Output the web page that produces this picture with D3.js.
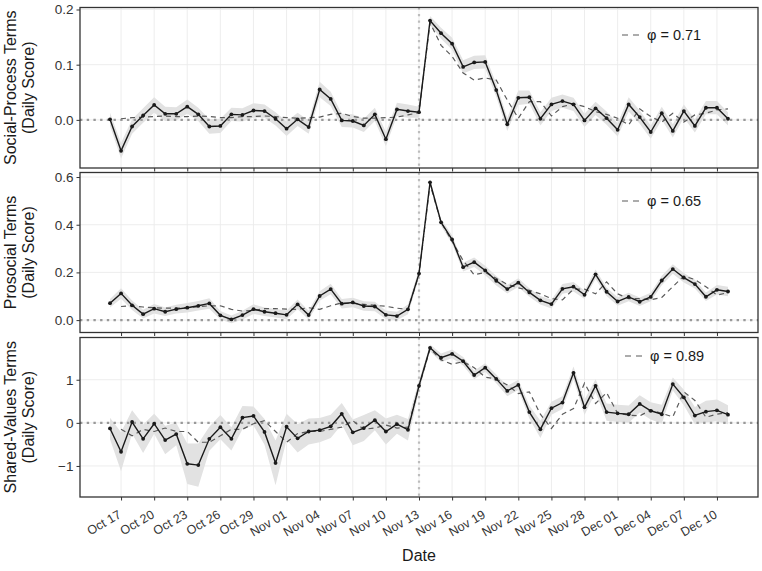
<!DOCTYPE html>
<html>
<head>
<meta charset="utf-8">
<script src="https://cdn.jsdelivr.net/npm/d3@7"></script>
<style>
    body { margin: 0; background: #fff; }
    svg { font-family: "Liberation Sans", Arial, sans-serif; }
</style>
</head>
<body>
<svg id="chart-svg" width="762" height="571"></svg>
<script>
/** Days covered (one point per day) **/
var firstDay = "2015-10-16", lastDay = "2015-12-11";
var eventDay = "2015-11-13";
var tickDays = ["2015-10-17","2015-10-20","2015-10-23","2015-10-26","2015-10-29","2015-11-01","2015-11-04",
    "2015-11-07","2015-11-10","2015-11-13","2015-11-16","2015-11-19","2015-11-22","2015-11-25","2015-11-28",
    "2015-12-01","2015-12-04","2015-12-07","2015-12-10"];

/** Social-process terms **/
var socialObserved = [0.001,-0.056,-0.012,0.008,0.027,0.011,0.011,0.024,0.010,-0.012,-0.011,0.010,0.009,0.017,0.016,
    0.002,-0.016,0.001,-0.013,0.055,0.038,-0.001,-0.002,-0.010,0.010,-0.035,0.019,0.016,0.014,
    0.180,0.157,0.138,0.096,0.104,0.105,0.054,-0.008,0.040,0.041,0.002,0.028,0.034,0.028,-0.001,
    0.021,0.003,-0.018,0.028,0.005,-0.022,0.012,-0.020,0.016,-0.011,0.022,0.022,0.002];
var socialModel = [null,0.002,0.004,0.005,0.006,0.007,0.006,0.006,0.007,0.006,0.004,0.004,0.006,0.006,0.007,
    0.006,0.004,0.003,0.004,0.005,0.010,0.012,0.006,0.003,0.003,0.004,0.005,0.009,0.013,
    0.176,0.135,0.115,0.085,0.072,0.076,0.072,0.036,0.003,0.033,0.033,0.007,0.024,0.029,0.024,
    0.015,0.010,0.003,-0.009,0.020,0.006,-0.004,0.012,-0.004,0.009,0.012,0.018,0.020];
var socialSE = [0.012,0.014,0.013,0.013,0.014,0.013,0.012,0.013,0.012,0.013,0.013,0.012,0.012,0.013,0.012,
    0.012,0.013,0.012,0.012,0.014,0.013,0.012,0.012,0.012,0.012,0.013,0.012,0.012,0.010,
    0.008,0.010,0.011,0.012,0.012,0.012,0.012,0.012,0.013,0.012,0.012,0.012,0.012,0.012,0.012,
    0.012,0.012,0.012,0.013,0.012,0.012,0.012,0.012,0.012,0.012,0.012,0.012,0.012];

/** Prosocial terms **/
var prosocialObserved = [0.071,0.112,0.062,0.025,0.048,0.035,0.046,0.052,0.060,0.070,0.020,0.003,0.021,0.046,0.035,
    0.029,0.022,0.066,0.021,0.101,0.130,0.069,0.074,0.059,0.057,0.022,0.017,0.045,0.195,
    0.578,0.410,0.338,0.222,0.243,0.208,0.165,0.130,0.157,0.116,0.083,0.067,0.131,0.140,0.106,
    0.192,0.119,0.078,0.097,0.077,0.097,0.166,0.214,0.178,0.151,0.098,0.127,0.120];
var prosocialModel = [null,0.057,0.060,0.055,0.052,0.050,0.050,0.052,0.056,0.060,0.060,0.045,0.038,0.040,0.048,
    0.048,0.046,0.045,0.052,0.045,0.060,0.072,0.070,0.066,0.062,0.058,0.050,0.045,0.190,
    0.570,0.410,0.330,0.250,0.190,0.200,0.175,0.150,0.135,0.125,0.110,0.090,0.085,0.130,0.130,
    0.110,0.160,0.110,0.090,0.090,0.085,0.095,0.140,0.185,0.170,0.140,0.105,0.115];
var prosocialSE = [0.018,0.022,0.020,0.018,0.020,0.018,0.018,0.020,0.020,0.022,0.018,0.016,0.018,0.020,0.018,
    0.018,0.018,0.020,0.018,0.020,0.022,0.020,0.020,0.020,0.020,0.018,0.018,0.020,0.018,
    0.012,0.015,0.018,0.018,0.020,0.020,0.020,0.018,0.018,0.018,0.018,0.018,0.020,0.020,0.018,
    0.020,0.018,0.018,0.018,0.018,0.018,0.020,0.020,0.020,0.018,0.018,0.020,0.020];

/** Shared-values terms **/
var valuesObserved = [-0.13,-0.67,0.02,-0.37,-0.02,-0.40,-0.26,-0.95,-0.98,-0.37,-0.10,-0.37,0.12,0.16,-0.21,
    -0.93,-0.09,-0.36,-0.20,-0.17,-0.08,0.21,-0.22,-0.12,0.06,-0.20,-0.03,-0.16,0.86,
    1.74,1.51,1.60,1.43,1.11,1.28,1.02,0.74,0.88,0.25,-0.15,0.34,0.47,1.16,0.36,
    0.86,0.25,0.22,0.20,0.44,0.28,0.20,0.90,0.59,0.17,0.26,0.29,0.19];
var valuesModel = [null,-0.15,-0.30,-0.15,-0.20,-0.12,-0.20,-0.20,-0.45,-0.45,-0.30,-0.15,-0.15,-0.02,0.05,
    -0.20,-0.45,-0.25,-0.20,-0.20,-0.15,-0.10,0.05,-0.15,-0.12,-0.05,-0.12,-0.10,0.84,
    1.72,1.46,1.36,1.42,1.28,1.06,1.02,0.88,0.68,0.72,0.20,-0.13,0.20,0.33,0.92,
    0.45,0.70,0.22,0.18,0.16,0.30,0.22,0.14,0.72,0.52,0.13,0.20,0.24];
var valuesSE = [0.25,0.45,0.27,0.33,0.23,0.33,0.26,0.47,0.50,0.28,0.28,0.27,0.27,0.22,0.30,
    0.52,0.30,0.33,0.30,0.28,0.27,0.25,0.30,0.30,0.23,0.30,0.22,0.25,0.12,
    0.08,0.10,0.10,0.10,0.10,0.10,0.10,0.12,0.12,0.15,0.20,0.15,0.15,0.15,0.18,
    0.15,0.20,0.20,0.20,0.20,0.20,0.22,0.15,0.18,0.20,0.25,0.25,0.22];

/** Panel titles, fit values and y ticks **/
var panelTitles = [["Social-Process Terms", "(Daily Score)"], ["Prosocial Terms", "(Daily Score)"], ["Shared-Values Terms", "(Daily Score)"]];
var phiValues = [0.71, 0.65, 0.89];
var socialTicks = [0, 0.1, 0.2];
var prosocialTicks = [0, 0.2, 0.4, 0.6];
var valuesTicks = [-1, 0, 1];

/** Layout **/
var chart_svg = d3.select("#chart-svg");
var left = 80, right = 758;
var parseDay = d3.utcParse("%Y-%m-%d");
var days = d3.utcDay.range(parseDay(firstDay), d3.utcDay.offset(parseDay(lastDay), 1));
var pad = 2.72 * 864e5;

var xScale = d3.scaleUtc()
    .domain([new Date(days[0].getTime() - pad), new Date(days[days.length - 1].getTime() + pad)])
    .range([left, right]);

var panels = [
    {top: 7.5, bottom: 168, domain: [-0.0872, 0.2036], ticks: socialTicks, fmt: d3.format(".1f"),
        obs: socialObserved, model: socialModel, se: socialSE, legendY: 27.5, legendX: 622},
    {top: 172.5, bottom: 332.5, domain: [-0.052, 0.619], ticks: prosocialTicks, fmt: d3.format(".1f"),
        obs: prosocialObserved, model: prosocialModel, se: prosocialSE, legendY: 28.5, legendX: 622},
    {top: 337.5, bottom: 497, domain: [-1.72, 1.98], ticks: valuesTicks, fmt: d3.format("d"),
        obs: valuesObserved, model: valuesModel, se: valuesSE, legendY: 18.5, legendX: 625}
];

panels.forEach(function (p, k) { drawPanel(p, k); });

function drawPanel(p, k) {
    var yScale = d3.scaleLinear().domain(p.domain).range([p.bottom, p.top]);
    var g = chart_svg.append("g");

    g.append("clipPath").attr("id", "clip" + k)
        .append("rect").attr("x", left).attr("y", p.top).attr("width", right - left).attr("height", p.bottom - p.top);

    /** Grid lines **/
    g.selectAll(".vgrid").data(tickDays).enter().append("line")
        .attr("x1", function (d) { return xScale(parseDay(d)); })
        .attr("x2", function (d) { return xScale(parseDay(d)); })
        .attr("y1", p.top).attr("y2", p.bottom)
        .attr("stroke", "#ebebeb").attr("stroke-width", 0.9);
    g.selectAll(".hgrid").data(p.ticks).enter().append("line")
        .attr("x1", left).attr("x2", right)
        .attr("y1", function (d) { return yScale(d); })
        .attr("y2", function (d) { return yScale(d); })
        .attr("stroke", "#ebebeb").attr("stroke-width", 0.9);

    var rows = days.map(function (d, i) {
        return {day: d, obs: p.obs[i], model: p.model[i], se: p.se[i]};
    });
    var plot = g.append("g").attr("clip-path", "url(#clip" + k + ")");

    /** Ribbon **/
    var band = d3.area()
        .x(function (d) { return xScale(d.day); })
        .y0(function (d) { return yScale(d.obs - d.se); })
        .y1(function (d) { return yScale(d.obs + d.se); });
    plot.append("path").datum(rows)
        .attr("fill", "#e2e2e2")
        .attr("d", band);

    /** Reference lines **/
    plot.append("line")
        .attr("x1", xScale(parseDay(eventDay))).attr("x2", xScale(parseDay(eventDay)))
        .attr("y1", p.top).attr("y2", p.bottom)
        .attr("stroke", "#bdbdbd").attr("stroke-width", 2.2)
        .attr("stroke-dasharray", "2.2,4.3");
    plot.append("line")
        .attr("x1", left).attr("x2", right)
        .attr("y1", yScale(0)).attr("y2", yScale(0))
        .attr("stroke", "#999").attr("stroke-width", 2.4)
        .attr("stroke-dasharray", "2.4,4.3");

    /** Model (dashed) **/
    var modelLine = d3.line()
        .defined(function (d) { return d.model !== null; })
        .x(function (d) { return xScale(d.day); })
        .y(function (d) { return yScale(d.model); });
    plot.append("path").datum(rows)
        .attr("fill", "none")
        .attr("stroke", "#5a5a5a")
        .attr("stroke-width", 1.2)
        .attr("stroke-dasharray", "5,4")
        .attr("d", modelLine);

    /** Observed line and points **/
    var obsLine = d3.line()
        .x(function (d) { return xScale(d.day); })
        .y(function (d) { return yScale(d.obs); });
    plot.append("path").datum(rows)
        .attr("fill", "none")
        .attr("stroke", "#1a1a1a")
        .attr("stroke-width", 1.4)
        .attr("d", obsLine);
    plot.selectAll("circle").data(rows).enter().append("circle")
        .attr("cx", function (d) { return xScale(d.day); })
        .attr("cy", function (d) { return yScale(d.obs); })
        .attr("r", 1.9)
        .attr("fill", "#1a1a1a");

    /** Border **/
    g.append("rect")
        .attr("x", left).attr("y", p.top)
        .attr("width", right - left).attr("height", p.bottom - p.top)
        .attr("fill", "none").attr("stroke", "#333").attr("stroke-width", 1.3);

    /** Axes **/
    var yAxis = d3.axisLeft(yScale).tickValues(p.ticks).tickFormat(p.fmt).tickSize(3.5).tickPadding(3);
    var ya = g.append("g").attr("transform", "translate(" + left + ",0)").call(yAxis);
    ya.select(".domain").remove();
    ya.selectAll("line").attr("stroke", "#333");
    ya.selectAll("text").attr("fill", "#333").style("font-size", "13.5px").style("font-family", "Liberation Sans, Arial, sans-serif");

    var xAxis = d3.axisBottom(xScale).tickValues(tickDays.map(parseDay)).tickFormat("").tickSize(3.5);
    var xa = g.append("g").attr("transform", "translate(0," + p.bottom + ")").call(xAxis);
    xa.select(".domain").remove();
    xa.selectAll("line").attr("stroke", "#333");

    /** Y title **/
    var cy = (p.top + p.bottom) / 2;
    panelTitles[k].forEach(function (t, j) {
        g.append("text")
            .text(t)
            .attr("transform", "translate(" + (15.5 + j * 18.5) + "," + cy + ") rotate(-90)")
            .attr("text-anchor", "middle")
            .style("font-size", "16px")
            .attr("fill", "#1a1a1a");
    });

    /** Legend **/
    var ly = p.top + p.legendY;
    g.append("line")
        .attr("x1", p.legendX).attr("x2", p.legendX + 17)
        .attr("y1", ly).attr("y2", ly)
        .attr("stroke", "#5a5a5a").attr("stroke-width", 1.2)
        .attr("stroke-dasharray", "6,5");
    g.append("text")
        .text("\u03c6 = " + phiValues[k].toFixed(2))
        .attr("x", p.legendX + 25)
        .attr("y", ly + 5)
        .style("font-size", "14.5px")
        .attr("fill", "#1a1a1a");
}

/** Bottom tick labels and x title **/
chart_svg.selectAll(".xlab").data(tickDays).enter().append("text")
    .text(function (d) { return d3.utcFormat("%b %d")(parseDay(d)); })
    .attr("transform", function (d) { return "translate(" + (xScale(parseDay(d)) + 1) + ",517) rotate(-30)"; })
    .attr("text-anchor", "end")
    .style("font-size", "12.5px")
    .attr("fill", "#333");

chart_svg.append("text")
    .text("Date")
    .attr("x", (left + right) / 2)
    .attr("y", 561)
    .attr("text-anchor", "middle")
    .style("font-size", "16px")
    .attr("fill", "#1a1a1a");
</script>
</body>
</html>
